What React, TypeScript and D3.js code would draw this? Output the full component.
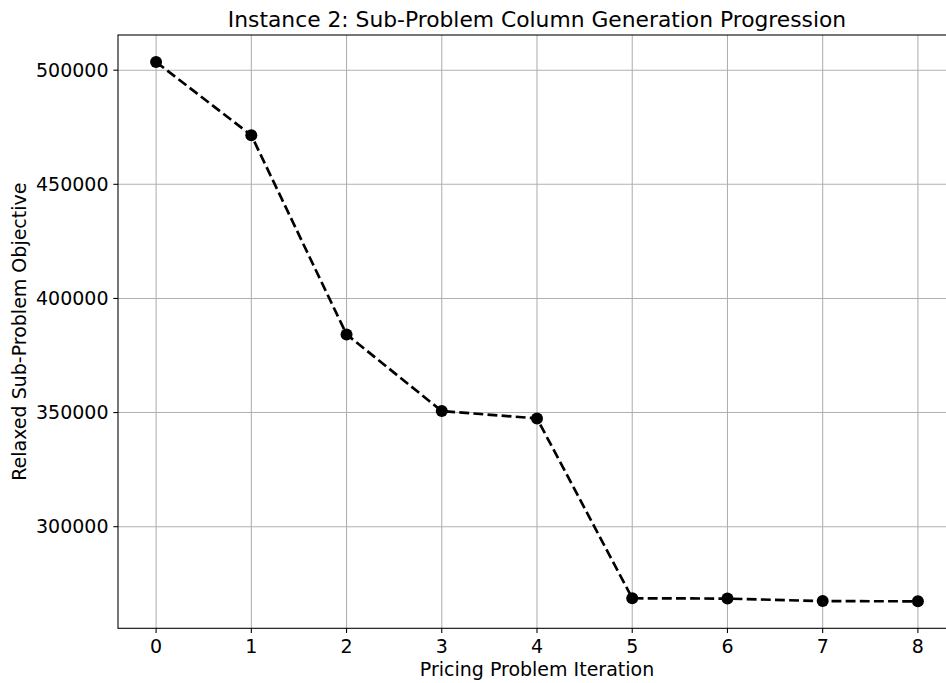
import React from "react";
import * as d3 from "d3";

// Column generation progress, instance 2
const iterations = [0, 1, 2, 3, 4, 5, 6, 7, 8];
const objective = [503600, 471500, 384250, 350650, 347450, 268650, 268500, 267400, 267300];
const xTicks = [0, 1, 2, 3, 4, 5, 6, 7, 8];
const yTicks = [300000, 350000, 400000, 450000, 500000];

const W = 946;
const H = 683;
const FONT = "DejaVu Sans, sans-serif";

export default function App() {
  const margin = { top: 35, right: -10, bottom: 55, left: 118 };
  const plotBottom = H - margin.bottom + 0.3;
  const plotRight = W - margin.right;

  // matplotlib-style 5% padding around the data
  const x = d3.scaleLinear().domain([-0.4, 8.4]).range([margin.left, plotRight]);
  const yMin = d3.min(objective)!;
  const yMax = d3.max(objective)!;
  const pad = (yMax - yMin) * 0.05;
  const y = d3.scaleLinear().domain([yMin - pad, yMax + pad]).range([plotBottom, margin.top]);

  const line = d3
    .line<number>()
    .x((_, i) => x(iterations[i]))
    .y((d) => y(d));

  const tickLen = 4.67;
  const fs = 19;

  return (
    <svg
      width={W}
      height={H}
      style={{ position: "absolute", left: 0, top: 0, background: "#fff" }}
      fontFamily={FONT}
    >
      <rect width={W} height={H} fill="#fff" />

      {/* grid */}
      {xTicks.map((t) => (
        <line key={"gx" + t} x1={x(t)} x2={x(t)} y1={margin.top} y2={plotBottom} stroke="#b0b0b0" strokeWidth={1.07} />
      ))}
      {yTicks.map((t) => (
        <line key={"gy" + t} x1={margin.left} x2={plotRight} y1={y(t)} y2={y(t)} stroke="#b0b0b0" strokeWidth={1.07} />
      ))}

      {/* data */}
      <path d={line(objective)!} fill="none" stroke="#000" strokeWidth={2.67} strokeDasharray="9.87,4.27" />
      {objective.map((v, i) => (
        <circle key={i} cx={x(iterations[i])} cy={y(v)} r={6} fill="#000" />
      ))}

      {/* spines */}
      <rect
        x={margin.left}
        y={margin.top}
        width={plotRight - margin.left}
        height={plotBottom - margin.top}
        fill="none"
        stroke="#000"
        strokeWidth={1.07}
      />

      {/* x axis */}
      {xTicks.map((t) => (
        <g key={"xt" + t}>
          <line x1={x(t)} x2={x(t)} y1={plotBottom} y2={plotBottom + tickLen} stroke="#000" strokeWidth={1.07} />
          <text x={x(t)} y={653} textAnchor="middle" fontSize={fs} fill="#000">
            {t}
          </text>
        </g>
      ))}
      <text x={(margin.left + plotRight) / 2} y={675.5} textAnchor="middle" fontSize={fs} fill="#000">
        Pricing Problem Iteration
      </text>

      {/* y axis */}
      {yTicks.map((t) => (
        <g key={"yt" + t}>
          <line x1={margin.left - tickLen} x2={margin.left} y1={y(t)} y2={y(t)} stroke="#000" strokeWidth={1.07} />
          <text x={margin.left - 9.5} y={y(t)} dy="0.35em" textAnchor="end" fontSize={fs} fill="#000">
            {t}
          </text>
        </g>
      ))}
      <text
        transform={`translate(25.5,${(margin.top + plotBottom) / 2}) rotate(-90)`}
        textAnchor="middle"
        fontSize={fs}
        fill="#000"
      >
        Relaxed Sub-Problem Objective
      </text>

      {/* title */}
      <text x={(margin.left + plotRight) / 2} y={27} textAnchor="middle" fontSize={21.8} fill="#000">
        Instance 2: Sub-Problem Column Generation Progression
      </text>
    </svg>
  );
}
